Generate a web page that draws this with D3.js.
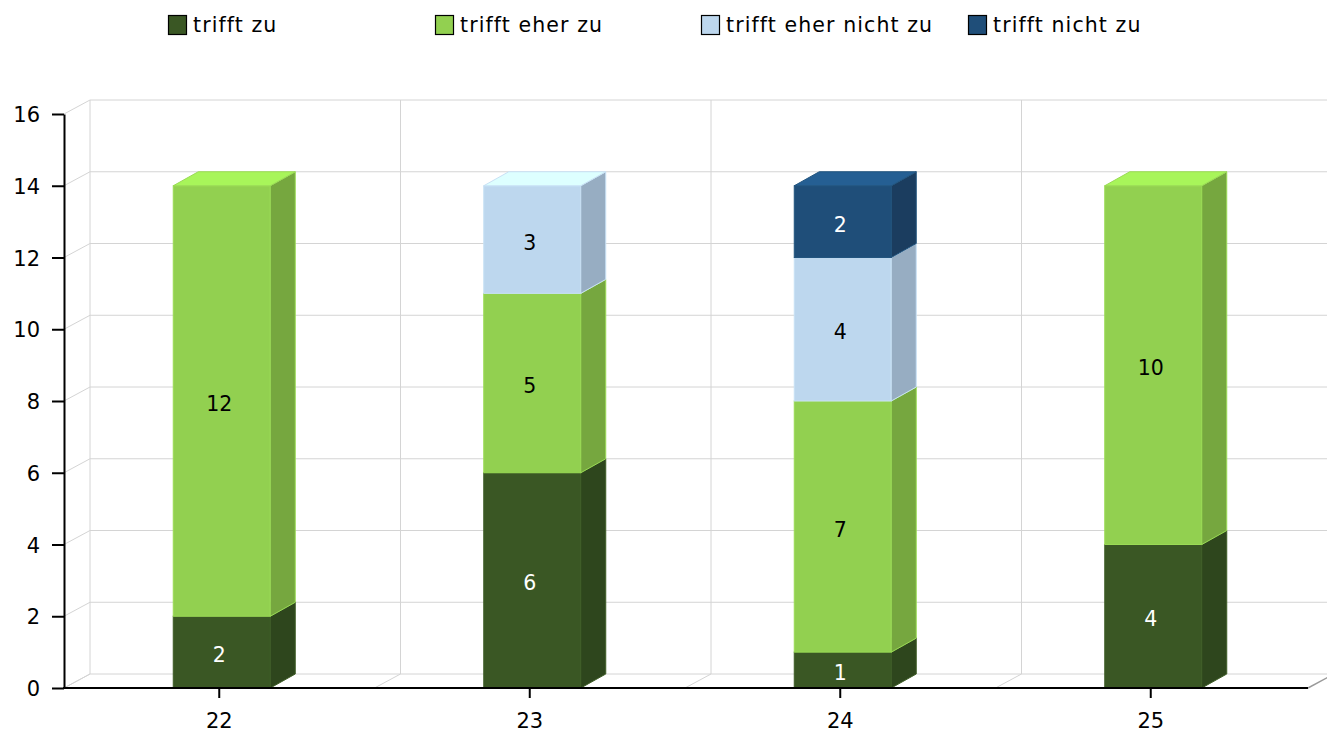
<!DOCTYPE html>
<html>
<head>
<meta charset="utf-8">
<script src="https://cdn.jsdelivr.net/npm/d3@7"></script>
<style>
  html, body { margin: 0; padding: 0; background: #fff; }
  svg { display: block; font-family: "DejaVu Sans", Verdana, sans-serif; }
</style>
</head>
<body>
<svg id="chart" width="1327" height="738"></svg>
<script>
// ---- data ----
const categories = ["22", "23", "24", "25"];
const seriesNames = ["trifft zu", "trifft eher zu", "trifft eher nicht zu", "trifft nicht zu"];
const triffZu = [2, 6, 1, 4];
const eherZu = [12, 5, 7, 10];
const eherNichtZu = [0, 3, 4, 0];
const nichtZu = [0, 0, 2, 0];
const yTicks = [0, 2, 4, 6, 8, 10, 12, 14, 16];

// ---- styles ----
const palette = [
  { front: "#3A5724", side: "#2E461D", top: "#4B6E2E", stroke: "#3F5E27", text: "#ffffff" },
  { front: "#92D050", side: "#76A73F", top: "#A8F55A", stroke: "#9ADB55", text: "#000000" },
  { front: "#BDD7EE", side: "#97ADC2", top: "#DDFFFF", stroke: "#C8E1F5", text: "#000000" },
  { front: "#1F4E79", side: "#1B3D5F", top: "#255F93", stroke: "#22557F", text: "#ffffff" }
];
const seriesValues = [triffZu, eherZu, eherNichtZu, nichtZu];

const svg = d3.select("#chart");
const DX = 26, DY = 14;       // wall depth
const BDX = 25, BDY = 14;     // bar depth
const gridColor = "#d4d4d4";

const y = d3.scaleLinear().domain([0, 16]).range([688, 114]);
const x = d3.scaleBand().domain(categories).range([64, 1306]).padding(0);
const barW = 97;

// ---- back walls / grid ----
const grid = svg.append("g");
yTicks.forEach(t => {
  grid.append("line")
    .attr("x1", 64 + DX).attr("x2", 1327)
    .attr("y1", y(t) - DY).attr("y2", y(t) - DY)
    .attr("stroke", gridColor).attr("stroke-width", 1);
  grid.append("line")
    .attr("x1", 64).attr("y1", y(t))
    .attr("x2", 64 + DX).attr("y2", y(t) - DY)
    .attr("stroke", gridColor).attr("stroke-width", 1);
});
categories.forEach(c => {
  const x0 = x(c);
  grid.append("line")
    .attr("x1", x0 + DX).attr("x2", x0 + DX)
    .attr("y1", y(16) - DY).attr("y2", y(0) - DY)
    .attr("stroke", gridColor).attr("stroke-width", 1);
  grid.append("line")
    .attr("x1", x0).attr("y1", y(0))
    .attr("x2", x0 + DX).attr("y2", y(0) - DY)
    .attr("stroke", gridColor).attr("stroke-width", 1);
});
// right floor edge
grid.append("line")
  .attr("x1", 1308).attr("y1", y(0))
  .attr("x2", 1308 + DX).attr("y2", y(0) - DY)
  .attr("stroke", "#9a9a9a").attr("stroke-width", 1.5);

// ---- bars ----
const bars = svg.append("g");
const labels = svg.append("g");
categories.forEach((c, ci) => {
  const cx = x(c) + x.bandwidth() / 2;
  const L = cx - 46;
  let cum = 0;
  seriesValues.forEach((vals, si) => {
    const v = vals[ci];
    if (!v) return;
    const y0 = y(cum), y1 = y(cum + v);
    const p = palette[si];
    // front
    bars.append("rect")
      .attr("x", L).attr("y", y1).attr("width", barW).attr("height", y0 - y1)
      .attr("fill", p.front).attr("stroke", p.stroke).attr("stroke-width", 1);
    // side
    bars.append("path")
      .attr("d", `M${L + barW},${y0} L${L + barW + BDX},${y0 - BDY} L${L + barW + BDX},${y1 - BDY} L${L + barW},${y1} Z`)
      .attr("fill", p.side).attr("stroke", p.stroke).attr("stroke-width", 1);
    // top
    bars.append("path")
      .attr("d", `M${L},${y1} L${L + barW},${y1} L${L + barW + BDX},${y1 - BDY} L${L + BDX},${y1 - BDY} Z`)
      .attr("fill", p.top).attr("stroke", p.stroke).attr("stroke-width", 1);
    labels.append("text")
      .attr("x", cx).attr("y", (y0 + y1) / 2 + 3)
      .attr("text-anchor", "middle").attr("dominant-baseline", "central")
      .attr("font-size", 20.5).attr("fill", p.text)
      .text(v);
    cum += v;
  });
});

// ---- axes ----
const yAxis = svg.append("g").attr("transform", "translate(64,0)")
  .call(d3.axisLeft(y).tickValues(yTicks).tickSize(12).tickSizeOuter(0).tickPadding(12));
yAxis.selectAll("text").attr("font-size", 21).attr("font-family", "DejaVu Sans, Verdana, sans-serif").attr("fill", "#000").attr("dy", "0.36em");
yAxis.selectAll("line").attr("stroke", "#000").attr("stroke-width", 2);
yAxis.select(".domain").attr("stroke", "#000").attr("stroke-width", 2);

const xAxis = svg.append("g").attr("transform", `translate(0,${y(0)})`)
  .call(d3.axisBottom(x).tickSize(10).tickSizeOuter(0).tickPadding(15));
xAxis.select(".domain").remove();
xAxis.selectAll("text").attr("font-size", 21).attr("font-family", "DejaVu Sans, Verdana, sans-serif").attr("fill", "#000");
xAxis.selectAll("line").attr("stroke", "#000").attr("stroke-width", 2);
svg.append("line")
  .attr("x1", 63).attr("x2", 1308).attr("y1", y(0)).attr("y2", y(0))
  .attr("stroke", "#000").attr("stroke-width", 2);

// ---- legend ----
const legendX = [168, 435, 701, 968];
const legend = svg.append("g");
seriesNames.forEach((name, i) => {
  legend.append("rect")
    .attr("x", legendX[i] + 0.5).attr("y", 15.5).attr("width", 18).attr("height", 19)
    .attr("fill", palette[i].front).attr("stroke", "#000").attr("stroke-width", 1.2);
  legend.append("text")
    .attr("x", legendX[i] + 25).attr("y", 32)
    .attr("font-size", 20.5).attr("letter-spacing", "1.1px").attr("fill", "#000")
    .text(name);
});
</script>
</body>
</html>
